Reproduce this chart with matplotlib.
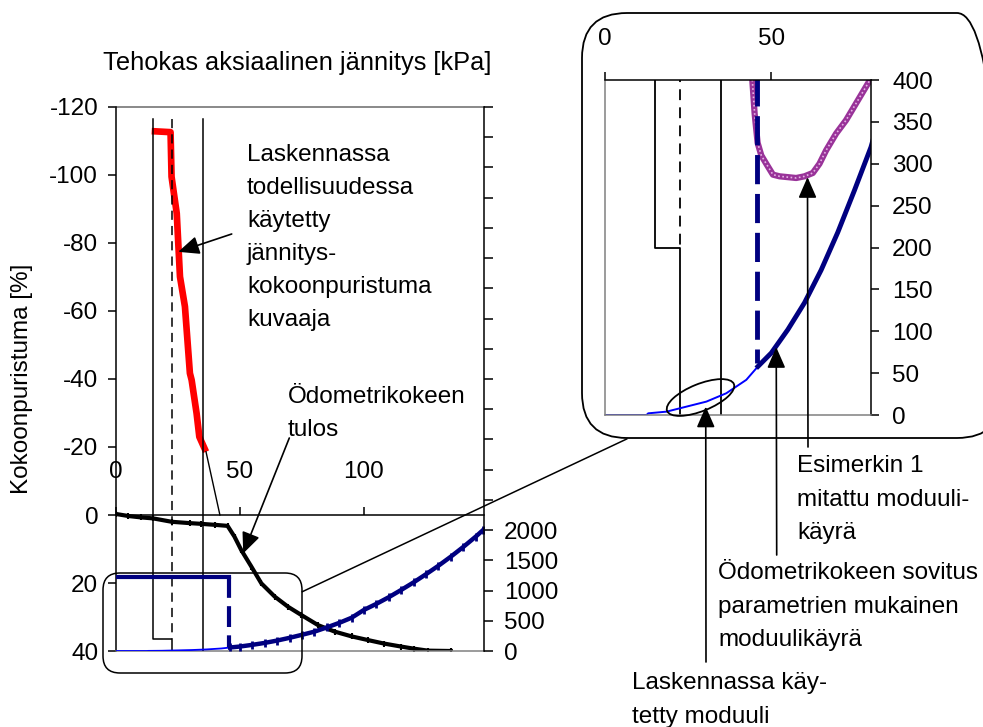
import matplotlib
matplotlib.use("Agg")
import matplotlib.pyplot as plt
from matplotlib.patches import FancyBboxPatch, Ellipse
from matplotlib.lines import Line2D
from matplotlib.ticker import FuncFormatter

plt.rcParams["font.family"] = ["Liberation Sans", "DejaVu Sans"]
plt.rcParams["axes.unicode_minus"] = False

W, H = 983, 727
FS = 17.5
GREY = "#808080"
NAVY = "#000080"
BLUE = "#0000FF"
RED = "#FF0000"
MAGENTA = "#993399"

# Oedometer test result: effective axial stress [kPa] -> compression [%]
ODO_STRESS = [0, 5, 10, 15, 22.5, 30, 34.3, 40, 45, 47.8, 50.5, 54.6, 58.6, 64,
              69.4, 74.7, 81.5, 88.2, 95, 101.7, 108, 115, 120, 125.8, 135]
ODO_STRAIN = [-0.3, 0.3, 0.7, 1.0, 2.0, 2.4, 2.6, 2.9, 3.2, 6.4, 10.3, 15.2, 20.1, 24,
              27, 29.4, 32.4, 34.3, 35.7, 36.8, 37.8, 38.7, 39.3, 39.9, 40.0]

# stress-compression curve used in the calculation
USED_STRESS = [14.4, 22.0, 22.4, 24.5, 25.8, 27.8, 29.8, 30.5, 32.5, 33.6, 36.3]
USED_STRAIN = [-112.9, -112.6, -99.5, -88.7, -70.1, -61.3, -41.7, -39.7, -29.9, -23.0, -18.6]
LEADER_STRESS = [36.3, 41.9]
LEADER_STRAIN = [-18.6, 0.0]

# modulus fitted from the oedometer parameters [kPa]
FIT_PLATEAU_X = [0, 45.7]
FIT_PLATEAU_Y = [1220, 1220]
FIT_DROP_X = [45.7, 45.7]
FIT_DROP_Y = [1220, 62]
FIT_X = [46, 50, 55, 60, 65, 70, 75, 80, 85, 90, 95, 100, 105, 110, 115, 120,
         125, 130, 135, 140, 145, 148]
FIT_Y = [58, 74, 102, 134, 173, 218, 268, 320, 390, 465, 550, 680, 780, 890, 1010,
         1135, 1270, 1410, 1560, 1720, 1890, 2000]

# modulus used in the calculation
USED_MOD_X = [0, 12.5, 13, 18.5, 24.5, 30.5, 36.5, 42.5, 46]
USED_MOD_Y = [0, 0, 2, 4, 10, 16, 26, 42, 58]

# measured modulus curve of example 1
MEAS_X = [44.0, 44.3, 45.0, 45.9, 47, 48.5, 50.5, 52.5, 55, 57.5, 60, 62.5, 64.5,
          66.5, 69.5, 72.5, 75.5, 78.5, 80]
MEAS_Y = [420, 400, 360, 325, 310, 300, 287, 285, 284, 283, 285, 289, 300,
          316, 336, 352, 372, 392, 402]

# stress limits (drawn on the modulus axis)
STEP_X = [15, 15, 22.5, 22.5]
STEP_Y = [8800, 200, 200, 0]
DASH_X = [22.5, 22.5]
DASH_Y = [8800, 200]
LIM_X = [35, 35]
LIM_Y = [8800, 0]

fig = plt.figure(figsize=(W / 100, H / 100), dpi=100)
T = fig.dpi_scale_trans


def px(x, y):
    return x / 100, (H - y) / 100


def ftext(x, y, s, **kw):
    kw.setdefault("fontsize", FS)
    kw.setdefault("va", "center")
    fig.text(*px(x, y), s, transform=T, **kw)


# ---------------- main chart ----------------
ax = fig.add_axes([116 / W, 1 - 651 / H, 368 / W, 544 / H])
ax.set_xlim(0, 148.4)
ax.set_ylim(40, -120)
ax.set_yticks(range(-120, 41, 20))
ax.set_xticks([0, 50, 100])
ax.xaxis.set_ticks_position("top")
ax.spines["top"].set_position(("data", 0))
ax.spines["right"].set_visible(False)
ax.spines["bottom"].set_color(GREY)
for s in ax.spines.values():
    s.set_linewidth(1.1)
ax.tick_params(axis="x", length=5.8, width=1.1, pad=17, labelsize=FS)
ax.tick_params(axis="y", length=5.8, width=1.1, pad=7, labelsize=FS)
ax.axhline(-120, color=GREY, lw=1.3, clip_on=False)

ax.plot(ODO_STRESS, ODO_STRAIN, color="black", lw=3, solid_joinstyle="round",
        marker="|", ms=4, mew=1.5)
ax.plot(USED_STRESS, USED_STRAIN, color=RED, lw=4.8, solid_capstyle="butt")
ax.plot(LEADER_STRESS, LEADER_STRAIN, color="black", lw=1)

ax2 = ax.twinx()
ax2.set_ylim(0, 9000)
ax2.set_yticks(range(0, 9001, 500))
ax2.yaxis.set_major_formatter(FuncFormatter(lambda v, p: f"{v:.0f}" if v <= 2000 else ""))
for k in ("top", "bottom", "left"):
    ax2.spines[k].set_visible(False)
ax2.spines["right"].set_linewidth(1.1)
ax2.tick_params(axis="y", length=6.2, width=1.1, pad=8, labelsize=FS)

ax2.plot(STEP_X, STEP_Y, color="black", lw=1.1)
ax2.plot(DASH_X, DASH_Y, color="black", lw=1.1, ls=(0, (6, 4)))
ax2.plot(LIM_X, LIM_Y, color="black", lw=1.1)
ax2.plot(USED_MOD_X, USED_MOD_Y, color=BLUE, lw=1.3)
ax2.plot(FIT_PLATEAU_X, FIT_PLATEAU_Y, color=NAVY, lw=3)
ax2.plot(FIT_DROP_X, FIT_DROP_Y, color=NAVY, lw=3, ls=(0, (5, 2)))
ax2.plot(FIT_X, FIT_Y, color=NAVY, lw=3.2, marker="|", ms=6, mew=2)

# ---------------- zoomed modulus chart ----------------
ins = fig.add_axes([605 / W, 1 - 415 / H, 266 / W, 335 / H])
ins.set_xlim(0, 80)
ins.set_ylim(0, 400)
ins.xaxis.set_ticks_position("top")
ins.yaxis.set_ticks_position("right")
ins.set_xticks([0, 50])
ins.set_yticks(range(0, 401, 50))
ins.spines["left"].set_color(GREY)
ins.spines["bottom"].set_color(GREY)
for s in ins.spines.values():
    s.set_linewidth(1.1)
ins.tick_params(axis="x", length=5.8, width=1.1, pad=16, labelsize=FS)
ins.tick_params(axis="y", length=5.8, width=1.1, pad=9.4, labelsize=FS)

ins.plot(STEP_X, STEP_Y, color="black", lw=1.3)
ins.plot(DASH_X, DASH_Y, color="black", lw=1.3, ls=(0, (6, 4)))
ins.plot(LIM_X, LIM_Y, color="black", lw=1.3)
ins.plot(MEAS_X, MEAS_Y, color=MAGENTA, lw=4.5)
ins.plot(MEAS_X, MEAS_Y, color="#e6b3e6", lw=1.2, ls=(0, (1, 1.5)))
ins.plot(FIT_DROP_X, FIT_DROP_Y, color=NAVY, lw=3.5, ls=(0, (6, 2)))
ins.plot(USED_MOD_X, USED_MOD_Y, color=BLUE, lw=1.4)
ins.plot(FIT_X, FIT_Y, color=NAVY, lw=3.5)

# ---------------- texts ----------------
ftext(297.5, 63, "Tehokas aksiaalinen jännitys [kPa]", ha="center", fontsize=18.3)
ftext(22.5, 379, "Kokoonpuristuma [%]", ha="center", rotation=90)

ANN_LINES = ["Laskennassa", "todellisuudessa", "käytetty", "jännitys-",
             "kokoonpuristuma", "kuvaaja"]
for i, s in enumerate(ANN_LINES):
    ftext(247, 155 + 33 * i, s)
for i, s in enumerate(["Ödometrikokeen", "tulos"]):
    ftext(288, 397 + 33 * i, s)
for i, s in enumerate(["Esimerkin 1", "mitattu moduuli-", "käyrä"]):
    ftext(797, 466 + 33.5 * i, s)
for i, s in enumerate(["Ödometrikokeen sovitus", "parametrien mukainen", "moduulikäyrä"]):
    ftext(718, 573 + 33.5 * i, s)
for i, s in enumerate(["Laskennassa käy-", "tetty moduuli"]):
    ftext(632, 683 + 34 * i, s)

arrow = dict(arrowstyle="-|>,head_length=0.8,head_width=0.35", color="black",
             lw=1.2, shrinkA=0, shrinkB=0, mutation_scale=16)
ax.annotate("", xy=(25.1, -77.4), xytext=px(231.7, 234), textcoords=T, arrowprops=arrow)
ax.annotate("", xy=(51.3, 11.3), xytext=px(289.3, 438), textcoords=T, arrowprops=arrow)
ins.annotate("", xy=(60.9, 284), xytext=px(808, 447), textcoords=T, arrowprops=arrow,
             annotation_clip=False)
ins.annotate("", xy=(51.5, 81), xytext=px(776.7, 555), textcoords=T, arrowprops=arrow,
             annotation_clip=False)
ins.annotate("", xy=(30.3, 10), xytext=px(706, 662), textcoords=T, arrowprops=arrow,
             annotation_clip=False)

# zoom frames and connector
fig.add_artist(FancyBboxPatch(px(103, 673), 1.99, 1.00, transform=T,
                              boxstyle="round,pad=0,rounding_size=0.17",
                              fill=False, lw=1.1, ec="black"))
fig.add_artist(FancyBboxPatch(px(582, 438), 4.20, 4.25, transform=T,
                              boxstyle="round,pad=0,rounding_size=0.45",
                              fill=False, lw=1.3, ec="black"))
fig.add_artist(Line2D([3.023, 6.267], [(H - 591.7) / 100, (H - 439) / 100],
                      transform=T, color="black", lw=1.1))
fig.add_artist(Ellipse(px(700.5, 397.5), 0.72, 0.27, angle=22, transform=T,
                       fill=False, lw=1.3, ec="black"))

fig.savefig("out.png", dpi=100)
